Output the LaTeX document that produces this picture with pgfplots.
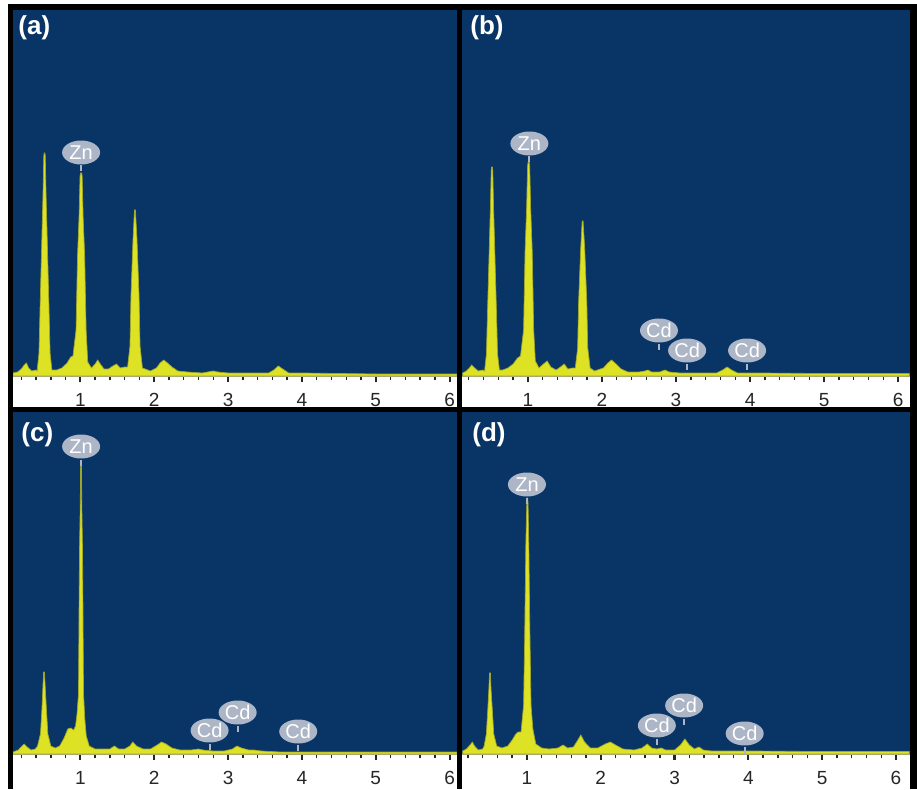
\documentclass[border=0pt]{standalone}
\usepackage{pgfplots}
\pgfplotsset{compat=1.18}
\usepackage{fontspec}
\setmainfont{Liberation Sans}
\usetikzlibrary{shapes.geometric}
\definecolor{bgblue}{RGB}{8,52,102}
\definecolor{specfill}{RGB}{222,226,36}
\definecolor{specedge}{RGB}{160,166,40}
\definecolor{labgray}{RGB}{172,182,198}

\pgfplotsset{
 edsbase/.style={
  scale only axis, anchor=south west,
  axis background/.style={fill=bgblue},
  axis x line*=bottom, axis y line=none,
  x axis line style={-, draw=gray!70, line width=0.5pt},
  ymin=0, ytick=\empty,
  xtick={1,2,3,4,5,6},
  minor xtick={0.2,0.4,0.6,0.8,1.2,1.4,1.6,1.8,2.2,2.4,2.6,2.8,3.2,3.4,3.6,3.8,4.2,4.4,4.6,4.8,5.2,5.4,5.6,5.8},
  tick align=outside,
  major tick length=3.2pt, minor tick length=2.2pt,
  major tick style={black!85, line width=1.1pt},
  minor tick style={black!85, line width=0.7pt},
  xticklabel style={font=\fontsize{9.5}{10}\selectfont, text=black!85, anchor=base, yshift=-12pt},
  /pgf/number format/assume math mode=true,
  clip=false,
 },
 spec/.style={draw=specedge, line width=0.35pt, fill=specfill},
}
\newcommand\elab[3]{\draw[labgray, line width=1pt] (axis cs:#1,#2) -- ++(0pt,3pt) node[ellipse, fill=labgray, text=white, anchor=south, minimum width=19pt, minimum height=12pt, inner sep=0pt, font=\fontsize{10}{10}\selectfont]{#3};}
\newcommand\plab[3]{\node[anchor=north west, inner sep=0pt, text=white, font=\bfseries\fontsize{13}{13}\selectfont, xshift=#1, yshift=#2] at (rel axis cs:0,1) {#3};}

\begin{document}
\begin{tikzpicture}
\fill[white] (0,0) rectangle (458.5pt,394.5pt);
\path[use as bounding box] (0,0) rectangle (458.5pt,394.5pt);

% (a)
\begin{axis}[edsbase, at={(6.5pt,206.5pt)}, width=222pt, height=183pt, ymax=366, xmin=0.088, xmax=6.10]
\addplot[spec] coordinates {(0.09,3) (0.15,4) (0.20,7) (0.24,11) (0.27,13) (0.30,8) (0.34,5) (0.40,6)
(0.415,5) (0.44,23) (0.455,69) (0.495,183) (0.505,220) (0.51,223) (0.52,223) (0.525,220) (0.535,183) (0.575,69) (0.59,23) (0.615,6)
(0.68,6) (0.75,8) (0.82,13) (0.87,19) (0.90,20) (0.942,46) (0.962,120) (0.983,160) (0.996,200) (1.003,203) (1.017,203) (1.024,200) (1.037,160) (1.058,120) (1.078,46) (1.10,14) (1.15,8)
(1.20,12) (1.235,16) (1.27,12) (1.32,7) (1.38,7) (1.44,10) (1.49,12) (1.54,8) (1.60,9)
(1.64,9) (1.672,30) (1.685,79) (1.713,136) (1.733,166) (1.745,166) (1.767,136) (1.795,79) (1.808,30) (1.84,8)
(1.95,5) (2.03,8) (2.08,13) (2.13,16) (2.18,13) (2.24,9) (2.32,5) (2.45,4) (2.65,3) (2.80,5) (2.86,4) (3.0,3) (3.3,3) (3.55,3) (3.62,6) (3.68,10) (3.74,7) (3.82,3) (4.0,3) (5.0,2) (6.1,2)} \closedcycle;
\elab{1.01}{204.5}{Zn}
\plab{2.5pt}{-2.5pt}{(a)}
\end{axis}

% (b)
\begin{axis}[edsbase, at={(231pt,206.5pt)}, width=224pt, height=183pt, ymax=366, xmin=0.11, xmax=6.16]
\addplot[spec] coordinates {(0.12,3) (0.17,5) (0.21,8) (0.24,11) (0.28,8) (0.33,5) (0.39,6)
(0.415,5) (0.44,22) (0.455,65) (0.495,172) (0.505,206) (0.51,209) (0.52,209) (0.525,206) (0.535,172) (0.575,65) (0.59,22) (0.615,6)
(0.66,6) (0.73,8) (0.80,12) (0.86,18) (0.90,20)
(0.942,46) (0.962,125) (0.983,168) (0.996,210) (1.003,214) (1.017,214) (1.024,210) (1.037,168) (1.058,125) (1.078,46) (1.10,15) (1.15,8)
(1.21,12) (1.26,15) (1.31,9) (1.38,6) (1.44,9) (1.49,12) (1.54,7) (1.60,8)
(1.64,8) (1.672,28) (1.685,74) (1.713,127) (1.733,155) (1.745,155) (1.767,127) (1.795,74) (1.808,28) (1.84,8)
(1.90,5) (2.02,8) (2.08,13) (2.13,16) (2.19,12) (2.26,7) (2.35,4) (2.5,4) (2.58,5) (2.62,6) (2.67,4) (2.78,4) (2.85,6) (2.91,4) (3.05,3) (3.3,3) (3.55,3) (3.63,6) (3.69,9) (3.75,6) (3.83,3) (4.1,3) (5.0,2.5) (6.15,2.5)} \closedcycle;
\elab{1.02}{213.5}{Zn}
\elab{2.77}{26.5}{Cd}
\elab{3.15}{6.5}{Cd}
\elab{3.96}{6.5}{Cd}
\plab{4pt}{-2.5pt}{(b)}
\end{axis}

% (c)
\begin{axis}[edsbase, at={(6.5pt,17.5pt)}, width=222pt, height=171pt, ymax=342, xmin=0.088, xmax=6.10]
\addplot[spec] coordinates {(0.09,2) (0.16,4) (0.21,8) (0.24,10) (0.28,7) (0.33,4) (0.39,5)
(0.42,8) (0.46,20) (0.48,45) (0.495,70) (0.503,82) (0.513,82) (0.522,70) (0.54,45) (0.56,20) (0.60,8)
(0.66,6) (0.72,8) (0.78,16) (0.83,25) (0.87,26) (0.91,24) (0.935,28) (0.955,40) (0.975,60)
(0.988,200) (0.998,245) (1.004,292) (1.014,292) (1.02,245) (1.03,200) (1.043,60) (1.06,35) (1.08,18) (1.12,8)
(1.20,5) (1.30,5) (1.40,5) (1.46,8) (1.52,5) (1.60,5) (1.67,8) (1.71,12) (1.76,8) (1.85,5) (1.95,5) (2.04,9) (2.10,12) (2.16,10) (2.24,6) (2.35,4) (2.5,4) (2.6,5) (2.66,4) (2.8,3) (2.95,3) (3.06,5) (3.12,8) (3.18,6) (3.28,4) (3.35,4) (3.45,3) (3.7,2) (4.0,2) (6.1,2)} \closedcycle;
\elab{1.01}{288.5}{Zn}
\elab{2.75}{4.5}{Cd}
\elab{3.13}{22.5}{Cd}
\elab{3.95}{3.5}{Cd}
\plab{4pt}{-5pt}{(c)}
\end{axis}

% (d)
\begin{axis}[edsbase, at={(231pt,17.5pt)}, width=224pt, height=171pt, ymax=342, xmin=0.12, xmax=6.19]
\addplot[spec] coordinates {(0.13,3) (0.18,5) (0.23,9) (0.26,12) (0.29,8) (0.34,4) (0.40,5)
(0.42,8) (0.45,20) (0.47,45) (0.485,66) (0.493,81) (0.505,81) (0.512,66) (0.53,45) (0.55,20) (0.59,8)
(0.66,6) (0.74,8) (0.80,14) (0.85,20) (0.88,22) (0.92,22)
(0.955,49) (0.97,119) (0.985,209) (0.998,250) (1.003,256) (1.010,256) (1.015,250) (1.025,209) (1.04,119) (1.055,49) (1.08,25) (1.12,10)
(1.2,6) (1.3,5) (1.42,6) (1.49,9) (1.55,6) (1.63,7) (1.69,14) (1.73,19) (1.78,12) (1.86,6) (1.96,6) (2.06,10) (2.13,12) (2.20,9) (2.30,5) (2.45,4) (2.56,6) (2.63,10) (2.69,6) (2.76,5) (2.82,6) (2.88,4) (3.0,4) (3.08,9) (3.14,15) (3.20,9) (3.27,5) (3.33,7) (3.39,4) (3.5,3) (3.8,3) (4.0,3) (5.0,2.5) (6.18,2.5)} \closedcycle;
\elab{1.0}{250.5}{Zn}
\elab{2.76}{9.5}{Cd}
\elab{3.13}{29.5}{Cd}
\elab{3.95}{1.5}{Cd}
\plab{5pt}{-5pt}{(d)}
\end{axis}

\fill[black] (4pt,0) rectangle (6.5pt,392.5pt);
\fill[black] (228.5pt,0) rectangle (231pt,392.5pt);
\fill[black] (455pt,0) rectangle (458.5pt,392.5pt);
\fill[black] (4pt,389.5pt) rectangle (458.5pt,392.5pt);
\fill[black] (4pt,188.5pt) rectangle (458.5pt,191pt);
\end{tikzpicture}
\end{document}
